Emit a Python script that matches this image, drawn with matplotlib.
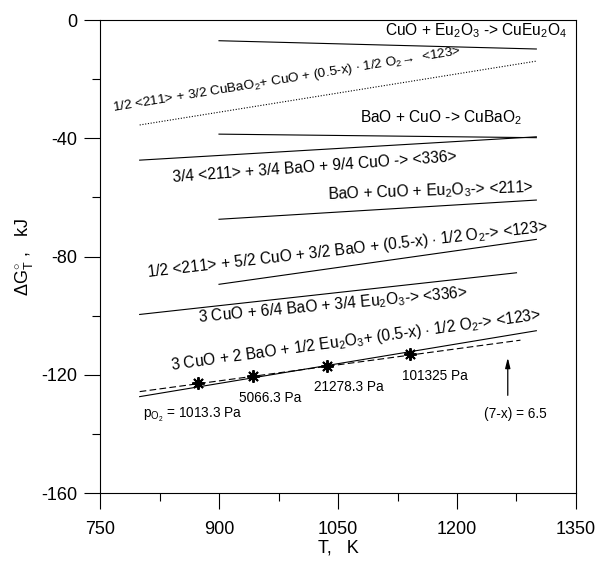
import matplotlib
matplotlib.use("Agg")
import matplotlib.pyplot as plt
from matplotlib.ticker import MultipleLocator

plt.rcParams["font.family"] = ["Liberation Sans", "DejaVu Sans"]
plt.rcParams["mathtext.fontset"] = "custom"
plt.rcParams["mathtext.rm"] = "Liberation Sans"
plt.rcParams["mathtext.it"] = "Liberation Sans"
plt.rcParams["mathtext.bf"] = "Liberation Sans:bold"
plt.rcParams["axes.unicode_minus"] = False

# reaction lines: (T start, T end) and (dG start, dG end)
T_cueu = [900, 1300]
G_cueu = [-7.0, -9.8]
T_123a = [800, 1300]          # dotted
G_123a = [-35.5, -13.9]
T_cuba = [900, 1300]
G_cuba = [-38.6, -39.8]
T_336a = [800, 1300]
G_336a = [-47.4, -39.5]
T_211 = [900, 1300]
G_211 = [-67.4, -60.9]
T_123b = [900, 1300]
G_123b = [-89.4, -74.2]
T_336b = [800, 1275]
G_336b = [-99.6, -85.5]
T_123c = [800, 1300]
G_123c = [-127.4, -105.1]
T_123d = [800, 1280]          # dashed, (7-x) = 6.5
G_123d = [-125.7, -108.3]

# oxygen partial pressure points
T_po2 = [874, 943, 1036, 1141]
G_po2 = [-122.7, -120.3, -117.0, -113.1]
po2_labels = [r"p$_{\mathrm{O_2}}$ = 1013.3 Pa", "5066.3 Pa", "21278.3 Pa", "101325 Pa"]

fig = plt.figure(figsize=(6.01, 5.61), dpi=100)
ax = fig.add_axes([0.1664, 0.1212, 0.792, 0.8431])

lw = 0.8
ax.plot(T_cueu, G_cueu, color="black", lw=lw)
ax.plot(T_123a, G_123a, color="black", lw=lw, linestyle=(0, (1, 1.5)))
ax.plot(T_cuba, G_cuba, color="black", lw=lw)
ax.plot(T_336a, G_336a, color="black", lw=lw)
ax.plot(T_211, G_211, color="black", lw=lw)
ax.plot(T_123b, G_123b, color="black", lw=lw)
ax.plot(T_336b, G_336b, color="black", lw=lw)
ax.plot(T_123c, G_123c, color="black", lw=lw)
ax.plot(T_123d, G_123d, color="black", lw=lw, linestyle=(0, (6, 3)))
ax.plot(T_po2, G_po2, linestyle="none", marker=(8, 2, 0), markersize=9,
        markeredgewidth=1.4, color="black")
ax.plot(T_po2, G_po2, linestyle="none", marker="o", markersize=3.5, color="black")

fs = 11.2
ax.text(1339, -5.2, r"CuO + Eu$_2$O$_3$ -> CuEu$_2$O$_4$", ha="right", va="baseline", fontsize=fs)
ax.text(986, -20.3, r"1/2 <211> + 3/2 CuBaO$_2$+ CuO + (0.5-x) $\cdot$ 1/2 O$_2$→  <123>",
        ha="center", va="center", rotation=9.3, rotation_mode="anchor", fontsize=9.7)
ax.text(1180, -34.5, r"BaO + CuO -> CuBaO$_2$", ha="center", va="baseline", fontsize=fs)
ax.text(1021, -49.7, "3/4 <211> + 3/4 BaO + 9/4 CuO -> <336>", ha="center", va="center",
        rotation=4.2, rotation_mode="anchor", fontsize=fs)
ax.text(1167, -59.5, r"BaO + CuO + Eu$_2$O$_3$-> <211>", ha="center", va="baseline",
        rotation=2, rotation_mode="anchor", fontsize=fs)
ax.text(1062, -77.8, r"1/2 <211> + 5/2 CuO + 3/2 BaO + (0.5-x) $\cdot$ 1/2 O$_2$-> <123>",
        ha="center", va="center", rotation=6.5, rotation_mode="anchor", fontsize=fs)
ax.text(1044, -96.4, r"3 CuO + 6/4 BaO + 3/4 Eu$_2$O$_3$-> <336>", ha="center", va="center",
        rotation=5.3, rotation_mode="anchor", fontsize=fs)
ax.text(1073, -108.3, r"3 CuO + 2 BaO + 1/2 Eu$_2$O$_3$+ (0.5-x) $\cdot$ 1/2 O$_2$-> <123>",
        ha="center", va="center", rotation=7.8, rotation_mode="anchor", fontsize=fs)

fp = 9.8
ax.text(804, -134.6, po2_labels[0], ha="left", va="baseline", fontsize=fp)
ax.text(964, -129.1, po2_labels[1], ha="center", va="baseline", fontsize=fp)
ax.text(1064, -125.4, po2_labels[2], ha="center", va="baseline", fontsize=fp)
ax.text(1172, -121.8, po2_labels[3], ha="center", va="baseline", fontsize=fp)

ax.annotate("", xy=(1264, -113.3), xytext=(1264, -127.9),
            arrowprops=dict(arrowstyle="-|>,head_length=0.6,head_width=0.15", color="black", lw=0.9))
ax.text(1273, -134.7, "(7-x) = 6.5", ha="center", va="baseline", fontsize=fp)

ax.set_xlim(750, 1350)
ax.set_ylim(-160, 0)
ax.xaxis.set_major_locator(MultipleLocator(150))
ax.xaxis.set_minor_locator(MultipleLocator(75))
ax.yaxis.set_major_locator(MultipleLocator(40))
ax.yaxis.set_minor_locator(MultipleLocator(20))
ax.tick_params(which="major", direction="out", length=11.5, width=0.8, labelsize=13)
ax.tick_params(which="minor", direction="out", length=5.8, width=0.8)
ax.tick_params(axis="x", which="major", pad=9)
ax.tick_params(axis="y", which="major", pad=5)
for s in ax.spines.values():
    s.set_linewidth(0.8)

ax.set_xlabel("T,   K", fontsize=13, labelpad=1)
ax.set_ylabel(r"$\Delta$G$^{\circ}_{\mathrm{T}}$ ,   kJ", fontsize=13, labelpad=4)

fig.savefig("out.png", dpi=100)
